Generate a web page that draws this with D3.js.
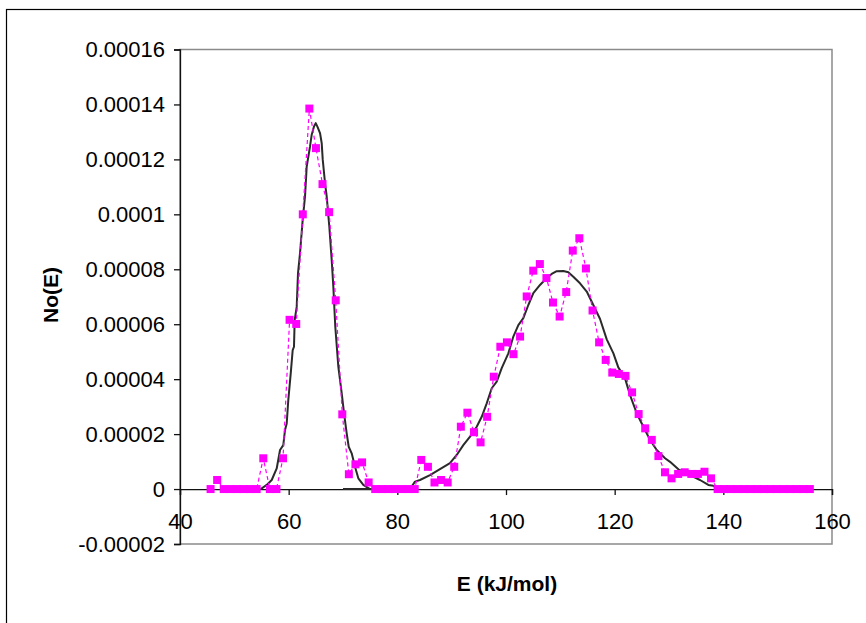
<!DOCTYPE html>
<html>
<head>
<meta charset="utf-8">
<script src="https://cdn.jsdelivr.net/npm/d3@7"></script>
<style>
  body { margin: 0; background: #fff; }
  text { font-family: Arial, "Liberation Sans", sans-serif; }
</style>
</head>
<body>
<div id="chart_container"></div>
<script>
// measured points, No(E) vs E
var energy = [45.63, 46.84, 48.05, 49.27, 50.48, 51.69, 52.90, 54.11, 55.33, 56.54,
    57.75, 58.96, 60.17, 61.39, 62.60, 63.81, 65.02, 66.23, 67.45, 68.66,
    69.87, 71.08, 72.29, 73.51, 74.72, 75.93, 77.14, 78.35, 79.57, 80.78,
    81.99, 83.20, 84.41, 85.63, 86.84, 88.05, 89.26, 90.47, 91.69, 92.90,
    94.11, 95.32, 96.53, 97.75, 98.96, 100.17, 101.38, 102.59, 103.81, 105.02,
    106.23, 107.44, 108.65, 109.87, 111.08, 112.29, 113.50, 114.71, 115.93, 117.14,
    118.35, 119.56, 120.77, 121.99, 123.20, 124.41, 125.62, 126.83, 128.05, 129.26,
    130.47, 131.68, 132.89, 134.11, 135.32, 136.53, 137.74, 138.95, 140.17, 141.38,
    142.59, 143.80, 145.01, 146.23, 147.44, 148.65, 149.86, 151.07, 152.29, 153.50,
    154.71, 155.92]
var noE = [0, 3.3e-6, 0, 0, 0, 0, 0, 0, 1.12e-5, 0,
    0, 1.12e-5, 6.16e-5, 6.01e-5, 1.0e-4, 1.385e-4, 1.241e-4, 1.11e-4, 1.008e-4, 6.87e-5,
    2.72e-5, 5.4e-6, 9.0e-6, 9.7e-6, 2.4e-6, 0, 0, 0, 0, 0,
    0, 0, 1.06e-5, 8.1e-6, 2.4e-6, 3.3e-6, 2.4e-6, 8.1e-6, 2.27e-5, 2.78e-5,
    2.07e-5, 1.70e-5, 2.63e-5, 4.09e-5, 5.18e-5, 5.34e-5, 4.91e-5, 5.55e-5, 7.01e-5, 7.95e-5,
    8.19e-5, 7.68e-5, 6.79e-5, 6.28e-5, 7.17e-5, 8.68e-5, 9.13e-5, 8.03e-5, 6.50e-5, 5.34e-5,
    4.70e-5, 4.24e-5, 4.19e-5, 4.12e-5, 3.52e-5, 2.73e-5, 2.21e-5, 1.79e-5, 1.20e-5, 6.1e-6,
    3.9e-6, 5.5e-6, 6.1e-6, 5.5e-6, 5.5e-6, 6.3e-6, 3.9e-6, 0, 0, 0,
    0, 0, 0, 0, 0, 0, 0, 0, 0, 0,
    0, 0]

// fitted curve, low energy peak
var fit1E = [54.85, 55.96, 56.88, 57.80, 58.41, 59.01, 59.33, 59.64, 59.93, 60.38,
    60.74, 60.98, 61.11, 61.48, 61.72, 62.09, 62.58, 63.01, 63.32, 63.93,
    64.24, 64.66, 64.98, 65.27, 65.77, 66.08, 66.27, 66.69, 67.00, 67.48,
    67.92, 68.22, 68.58, 69.14, 69.76, 70.19, 70.68, 71.05, 71.60, 72.21,
    72.82, 73.74, 74.97]
var fit1N = [0, 1.5e-6, 3.3e-6, 7.5e-6, 1.42e-5, 1.60e-5, 2.15e-5, 2.39e-5, 3.24e-5, 4.21e-5,
    5.06e-5, 5.18e-5, 6.16e-5, 6.64e-5, 7.86e-5, 8.59e-5, 9.80e-5, 1.065e-4, 1.174e-4, 1.247e-4,
    1.290e-4, 1.320e-4, 1.332e-4, 1.320e-4, 1.296e-4, 1.259e-4, 1.199e-4, 1.114e-4, 1.065e-4, 9.56e-5,
    8.34e-5, 7.37e-5, 5.91e-5, 4.46e-5, 3.49e-5, 2.76e-5, 2.03e-5, 1.54e-5, 1.30e-5, 8.1e-6,
    3.9e-6, 1.5e-6, 0]

// fitted curve, high energy peak
var fit2E = [70.00, 82.33, 83.25, 84.17, 86.01, 87.54, 89.69, 90.93, 92.14, 93.38,
    94.61, 95.53, 96.45, 97.37, 98.29, 99.21, 100.43, 101.35, 102.27, 103.19,
    104.11, 105.03, 106.26, 107.49, 108.41, 109.34, 110.55, 111.47, 112.39, 113.62,
    114.86, 116.07, 117.31, 118.54, 119.75, 120.67, 121.91, 122.83, 124.06, 125.28,
    126.51, 127.74, 129.27, 130.19, 131.72, 133.87, 135.71, 137.24, 138.16, 139.08]
var fit2N = [0, 0, 2.7e-6, 3.3e-6, 5.1e-6, 6.9e-6, 9.4e-6, 1.24e-5, 1.60e-5, 1.91e-5,
    2.27e-5, 2.63e-5, 3.12e-5, 3.67e-5, 3.91e-5, 4.40e-5, 4.94e-5, 5.55e-5, 5.97e-5, 6.22e-5,
    6.70e-5, 7.13e-5, 7.43e-5, 7.68e-5, 7.83e-5, 7.93e-5, 7.94e-5, 7.89e-5, 7.73e-5, 7.49e-5,
    7.19e-5, 6.70e-5, 6.19e-5, 5.45e-5, 4.95e-5, 4.43e-5, 4.03e-5, 3.42e-5, 2.76e-5, 2.27e-5,
    1.79e-5, 1.42e-5, 1.12e-5, 9.9e-6, 7.2e-6, 5.1e-6, 3.3e-6, 1.5e-6, 1.2e-6, 0]

var xTicks = [40, 60, 80, 100, 120, 140, 160]
var yTicks = [-0.00002, 0, 0.00002, 0.00004, 0.00006, 0.00008, 0.0001, 0.00012, 0.00014, 0.00016]
var yTickLabels = ["-0.00002", "0", "0.00002", "0.00004", "0.00006", "0.00008", "0.0001", "0.00012", "0.00014", "0.00016"]

var w = 866, h = 623
var plot_l = 180, plot_r = 832, plot_t = 49.5, plot_b = 544

draw_chart()

function draw_chart() {
    var svg = d3.select("#chart_container")
        .append("svg")
            .attr("width", w)
            .attr("height", h)

    var x = d3.scaleLinear().domain([40, 160]).range([plot_l, plot_r])
    var y = d3.scaleLinear().domain([-0.00002, 0.00016]).range([plot_b, plot_t])

    // chart area frame (runs off the right and bottom)
    svg.append("rect")
        .attr("x", 6.5).attr("y", 9.5)
        .attr("width", 900).attr("height", 700)
        .style("fill", "none")
        .style("stroke", "#000")
        .style("stroke-width", "1.2px")

    // plot area frame
    svg.append("rect")
        .attr("x", plot_l).attr("y", plot_t)
        .attr("width", plot_r - plot_l).attr("height", plot_b - plot_t)
        .style("fill", "none")
        .style("stroke", "#8a8a8a")
        .style("stroke-width", "1.5px")

    var yAxis = d3.axisLeft(y)
        .tickValues(yTicks)
        .tickFormat(function(d, i) { return yTickLabels[i] })
        .tickSizeOuter(0)
        .tickSize(6)
        .tickPadding(9)

    var gy = svg.append("g")
        .attr("transform", "translate(" + plot_l + ",0)")
        .call(yAxis)

    var xAxis = d3.axisBottom(x)
        .tickValues(xTicks)
        .tickFormat(d3.format("d"))
        .tickSizeOuter(0)
        .tickSize(6)
        .tickPadding(18)

    var gx = svg.append("g")
        .attr("transform", "translate(0," + y(0) + ")")
        .call(xAxis)

    svg.selectAll(".domain, .tick line")
        .style("stroke", "#111")
        .style("stroke-width", "1.3px")
    svg.selectAll(".tick text")
        .style("font-size", "22px")
        .style("fill", "#000")

    var line = d3.line()
        .x(function(d) { return x(d[0]) })
        .y(function(d) { return y(d[1]) })

    var fits = [d3.zip(fit1E, fit1N), d3.zip(fit2E, fit2N)]
    svg.selectAll(".fit_line").data(fits)
        .enter()
        .append("path")
        .attr("class", "fit_line")
        .attr("d", line)
        .style("fill", "none")
        .style("stroke", "#2a2a2a")
        .style("stroke-width", "2px")
        .style("stroke-linejoin", "round")

    var pts = d3.zip(energy, noE)
    svg.append("path")
        .attr("d", line(pts))
        .style("fill", "none")
        .style("stroke", "#ff00ff")
        .style("stroke-width", "1.2px")
        .style("stroke-dasharray", "4,3")

    var m = 8
    svg.selectAll(".marker").data(pts)
        .enter()
        .append("rect")
        .attr("class", "marker")
        .attr("x", function(d) { return x(d[0]) - m / 2 })
        .attr("y", function(d) { return y(d[1]) - m / 2 })
        .attr("width", m)
        .attr("height", m)
        .style("fill", "#ff00ff")

    // axis titles
    svg.append("text")
        .attr("transform", "translate(58,295) rotate(-90)")
        .attr("text-anchor", "middle")
        .style("font-size", "21px")
        .style("font-weight", "bold")
        .text("No(E)")

    svg.append("text")
        .attr("x", 507)
        .attr("y", 591)
        .attr("text-anchor", "middle")
        .style("font-size", "21px")
        .style("font-weight", "bold")
        .text("E (kJ/mol)")
}
</script>
</body>
</html>
